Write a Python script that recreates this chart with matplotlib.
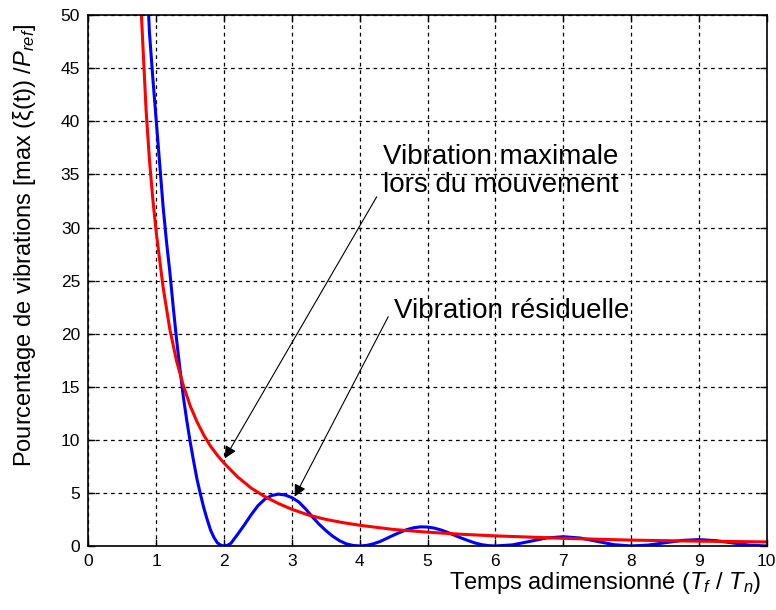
import numpy as np
import matplotlib
matplotlib.use('Agg')
import matplotlib.pyplot as plt

plt.rcParams['font.family'] = ['Liberation Sans', 'DejaVu Sans']
plt.rcParams['mathtext.fontset'] = 'custom'
plt.rcParams['mathtext.rm'] = 'Liberation Sans'
plt.rcParams['mathtext.it'] = 'Liberation Sans:italic'

# red: vibration maximale lors du mouvement
x_max = [0.75, 0.8, 0.85, 0.9, 0.95, 1.0, 1.1, 1.2, 1.3, 1.4, 1.5, 1.6, 1.7,
         1.8, 1.9, 2.0, 2.2, 2.4, 2.6, 2.8, 3.0, 3.25, 3.5, 3.75, 4.0, 4.5,
         5.0, 5.5, 6.0, 7.0, 8.0, 9.0, 10.0]
y_max = [54.0, 47.5, 41.0, 36.3, 32.6, 29.5, 24.4, 20.4, 17.4, 15.1, 13.2,
         11.7, 10.45, 9.4, 8.55, 7.8, 6.5, 5.45, 4.65, 4.0, 3.45, 2.9, 2.5,
         2.2, 1.95, 1.55, 1.3, 1.1, 0.95, 0.72, 0.55, 0.45, 0.38]

# blue: vibration residuelle
x_res = [0.85, 0.9, 0.95, 1.0, 1.05, 1.1, 1.15, 1.2, 1.25, 1.3, 1.35, 1.4,
         1.45, 1.5, 1.55, 1.6, 1.65, 1.7, 1.75, 1.8, 1.85, 1.9, 1.95, 2.0,
         2.05, 2.1, 2.2, 2.3, 2.4, 2.5, 2.6, 2.7, 2.8, 2.9, 3.0, 3.1, 3.2,
         3.3, 3.4, 3.5, 3.6, 3.7, 3.8, 3.9, 4.0, 4.1, 4.2, 4.3, 4.4, 4.5,
         4.6, 4.7, 4.8, 4.9, 5.0, 5.1, 5.2, 5.3, 5.4, 5.5, 5.6, 5.7, 5.8,
         5.9, 6.0, 6.25, 6.5, 6.75, 7.0, 7.25, 7.5, 7.75, 8.0, 8.25, 8.5,
         8.75, 9.0, 9.25, 9.5, 9.75, 10.0]
y_res = [55.0, 48.3, 44.0, 40.0, 36.0, 32.0, 28.7, 25.8, 22.5, 19.4, 16.6,
         14.0, 11.8, 9.8, 8.0, 6.3, 4.9, 3.6, 2.5, 1.5, 0.8, 0.3, 0.07, 0.0,
         0.06, 0.25, 1.1, 2.0, 2.95, 3.8, 4.4, 4.75, 4.88, 4.8, 4.55, 4.15,
         3.5, 2.75, 2.05, 1.45, 0.92, 0.5, 0.2, 0.05, 0.0, 0.05, 0.2, 0.42,
         0.72, 1.02, 1.3, 1.55, 1.72, 1.8, 1.78, 1.68, 1.5, 1.27, 1.0, 0.74,
         0.5, 0.28, 0.12, 0.03, 0.0, 0.1, 0.42, 0.75, 0.87, 0.75, 0.43, 0.12,
         0.0, 0.08, 0.3, 0.52, 0.6, 0.5, 0.28, 0.07, 0.0]

xticks = np.arange(0, 11, 1)
yticks = np.arange(0, 55, 5)

fig = plt.figure(figsize=(7.76, 6.10), dpi=100)
ax = fig.add_axes([0.114, 0.105, 0.874, 0.87])

ax.plot(x_res, y_res, color='#0000ff', lw=2.2)
ax.plot(x_max, y_max, color='#ff0000', lw=2.2)

ax.set_xlim(0, 10)
ax.set_ylim(0, 50)
ax.set_xticks(xticks)
ax.set_yticks(yticks)
ax.grid(True, color='black', linestyle=(0, (3, 3)), lw=0.9)
ax.tick_params(direction='in', top=True, right=True, length=5, width=1,
               labelsize=12.5, pad=6)
for s in ax.spines.values():
    s.set_linewidth(1.2)

ax.set_xlabel('Temps adimensionné ($T_f$ / $T_n$)', fontsize=17)
ax.xaxis.set_label_coords(0.992, -0.045)
ax.xaxis.label.set_ha('right')
ax.set_ylabel(r'Pourcentage de vibrations [max (ξ(t)) /$P_{ref}$]', fontsize=17)
ax.yaxis.set_label_coords(-0.074, 0.567)

ax.text(4.34, 37.9, 'Vibration maximale\nlors du mouvement', fontsize=20,
        va='top', ha='left', linespacing=1.1)
ax.text(4.5, 23.4, 'Vibration résiduelle', fontsize=20, va='top', ha='left')

arrow = dict(arrowstyle='-|>', color='black', lw=0.8, mutation_scale=18,
             shrinkA=0, shrinkB=0)
ax.annotate('', xy=(2.01, 8.25), xytext=(4.25, 32.9), arrowprops=arrow)
ax.annotate('', xy=(3.04, 4.64), xytext=(4.42, 21.6), arrowprops=arrow)

fig.savefig('out.png', dpi=100)
